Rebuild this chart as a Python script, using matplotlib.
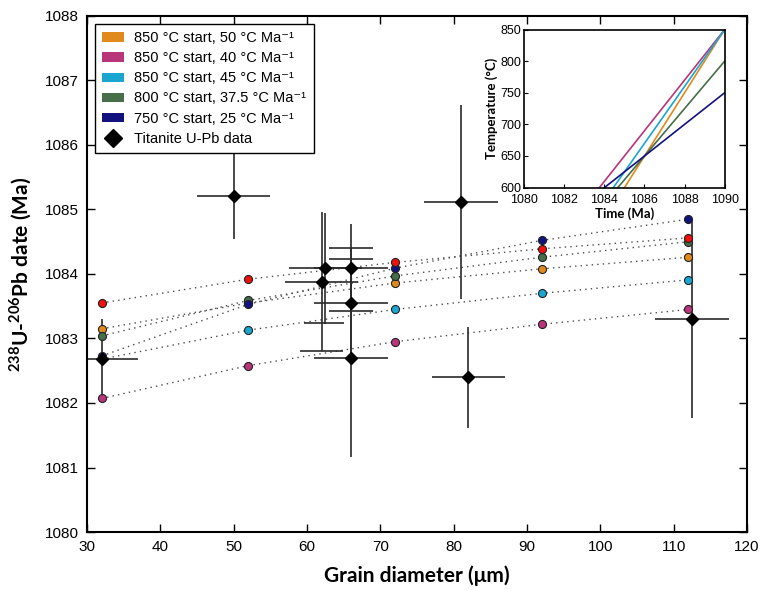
import matplotlib
matplotlib.use("Agg")
import matplotlib.pyplot as plt
from matplotlib.patches import Patch
from matplotlib.lines import Line2D
import numpy as np

plt.rcParams['font.family'] = ['Liberation Sans', 'DejaVu Sans']
plt.rcParams['mathtext.fontset'] = 'custom'
plt.rcParams['mathtext.rm'] = 'Liberation Sans'
plt.rcParams['mathtext.bf'] = 'Lato:bold'

# ---------------- data ----------------
grain_x = [32, 52, 72, 92, 112]

model_orange = [1083.15, 1083.55, 1083.86, 1084.08, 1084.26]
model_magenta = [1082.07, 1082.58, 1082.95, 1083.22, 1083.45]
model_cyan = [1082.68, 1083.13, 1083.45, 1083.70, 1083.91]
model_green = [1083.04, 1083.59, 1083.97, 1084.26, 1084.50]
model_navy = [1082.73, 1083.53, 1084.09, 1084.52, 1084.85]
model_red = [1083.55, 1083.92, 1084.18, 1084.39, 1084.56]

legend_labels = ['850 °C start, 50 °C Ma⁻¹',
                 '850 °C start, 40 °C Ma⁻¹',
                 '850 °C start, 45 °C Ma⁻¹',
                 '800 °C start, 37.5 °C Ma⁻¹',
                 '750 °C start, 25 °C Ma⁻¹']
start_temp = [850, 850, 850, 800, 750]
cool_rate = [50, 40, 45, 37.5, 25]

tit_x = [32, 50, 62.5, 62.0, 66, 66, 66, 81, 82, 112.5]
tit_y = [1082.68, 1085.21, 1084.09, 1083.88, 1084.09, 1083.55, 1082.69, 1085.12, 1082.40, 1083.30]
tit_xerr = [5, 5, 5, 5, 5, 5, 5, 5, 5, 5]
tit_yerr = [0.63, 0.66, 0.86, 1.08, 0.68, 0.85, 1.53, 1.50, 0.78, 1.54]

cap_x = [62.3, 62.0, 66, 66, 66]
cap_y = [1083.24, 1082.81, 1084.40, 1084.23, 1083.43]
cap_half = [2.7, 2.9, 3.0, 3.0, 3.0]

x_ticks = [30, 40, 50, 60, 70, 80, 90, 100, 110, 120]
y_ticks = [1080, 1081, 1082, 1083, 1084, 1085, 1086, 1087, 1088]
inset_x_ticks = [1080, 1082, 1084, 1086, 1088, 1090]
inset_y_ticks = [600, 650, 700, 750, 800, 850]

c_orange = '#E08A1E'
c_magenta = '#B8357A'
c_cyan = '#1AA6D0'
c_green = '#466E48'
c_navy = '#12127E'
c_red = '#F01010'

# ---------------- figure ----------------
fig = plt.figure(figsize=(7.62, 5.90), dpi=100)
ax = fig.add_axes([0.1142, 0.0983, 0.8661, 0.8746])

series = [(model_orange, c_orange), (model_magenta, c_magenta), (model_cyan, c_cyan),
          (model_green, c_green), (model_navy, c_navy), (model_red, c_red)]
for vals, c in series:
    ax.plot(grain_x, vals, linestyle=(0, (1, 3)), color='0.3', lw=1.0, zorder=1)

# titanite error bars
ax.errorbar(tit_x, tit_y, xerr=tit_xerr, yerr=tit_yerr, fmt='none',
            ecolor='#2a2a2a', elinewidth=1.2, capsize=0, zorder=2)
ax.hlines(cap_y, np.array(cap_x) - np.array(cap_half), np.array(cap_x) + np.array(cap_half),
          colors='#2a2a2a', lw=1.2, zorder=2)

for vals, c in series:
    ax.plot(grain_x, vals, linestyle='none', marker='o', ms=5.8, mfc=c,
            mec='#222222', mew=0.8, zorder=3)

ax.plot(tit_x, tit_y, linestyle='none', marker='D', ms=6.5, color='black', zorder=4)

ax.set_xlim(30, 120)
ax.set_ylim(1080, 1088)
ax.set_xticks(x_ticks)
ax.set_yticks(y_ticks)
ax.tick_params(direction='in', length=6, width=1, top=True, right=True,
               labelsize=11, pad=6)
for s in ax.spines.values():
    s.set_linewidth(1.5)

ax.set_xlabel('Grain diameter (μm)', family=['Lato', 'DejaVu Sans'],
              fontweight='bold', fontsize=15, labelpad=8)
ax.set_ylabel('$^{\\mathbf{238}}$U-$^{\\mathbf{206}}$Pb date (Ma)', family=['Lato', 'DejaVu Sans'],
              fontweight='bold', fontsize=15, labelpad=8)

handles = [Patch(facecolor=c, edgecolor='none') for c in
           [c_orange, c_magenta, c_cyan, c_green, c_navy]]
handles.append(Line2D([], [], linestyle='none', marker='D', ms=9, color='black'))
leg = ax.legend(handles, legend_labels + ['Titanite U-Pb data'], loc='upper left',
                bbox_to_anchor=(0.012, 0.985), borderaxespad=0, fontsize=10.5,
                frameon=True, fancybox=False, edgecolor='black', framealpha=1,
                handlelength=1.5, handleheight=0.6, labelspacing=0.42,
                handletextpad=0.7, borderpad=0.5)
leg.get_frame().set_linewidth(1.0)
leg.set_zorder(10)

# ---------------- inset ----------------
axi = fig.add_axes([0.688, 0.682, 0.263, 0.268])
t_line = np.array([1080.0, 1090.0])
for T0, r, c in zip(start_temp, cool_rate, [c_orange, c_magenta, c_cyan, c_green, c_navy]):
    axi.plot(t_line, T0 - r * (1090 - t_line), color=c, lw=1.2)
axi.set_xlim(1080, 1090)
axi.set_ylim(600, 850)
axi.set_xticks(inset_x_ticks)
axi.set_yticks(inset_y_ticks)
axi.tick_params(axis='x', direction='in', length=3, labelsize=9, pad=4.5)
axi.tick_params(axis='y', direction='in', length=3, labelsize=9, pad=2)
axi.set_xlabel('Time (Ma)', family=['Lato', 'DejaVu Sans'], fontweight='bold',
               fontsize=9.5, labelpad=1)
axi.set_ylabel('Temperature (°C)', family=['Lato', 'DejaVu Sans'], fontweight='bold',
               fontsize=9.5, labelpad=2)
for s in axi.spines.values():
    s.set_linewidth(1.2)

fig.savefig('out.png', dpi=100)
